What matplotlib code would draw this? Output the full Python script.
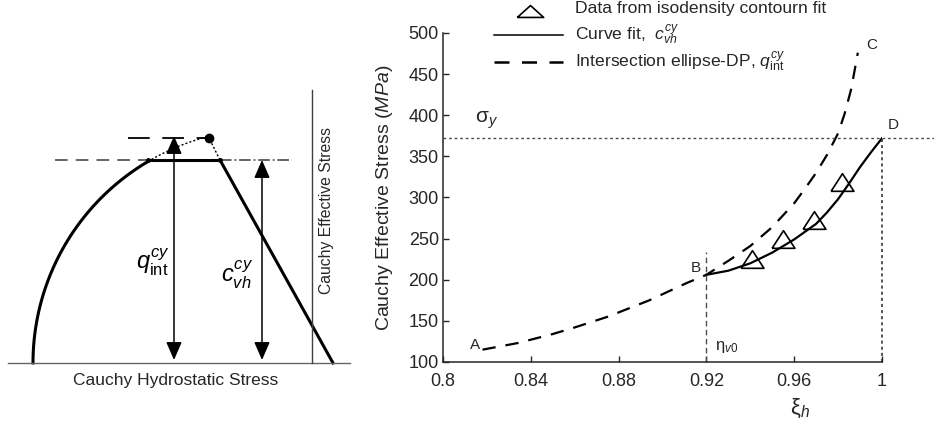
import numpy as np
import matplotlib
matplotlib.use("Agg")
import matplotlib.pyplot as plt

plt.rcParams['font.family'] = ['Liberation Sans', 'DejaVu Sans']
plt.rcParams['mathtext.fontset'] = 'custom'
plt.rcParams['mathtext.rm'] = 'Liberation Sans'
plt.rcParams['mathtext.it'] = 'Liberation Sans:italic'
plt.rcParams['mathtext.bf'] = 'Liberation Sans:bold'

# right panel data
xi_tri = [0.941, 0.955, 0.969, 0.982]
q_tri = [225, 249, 273, 319]

xi_fit = [0.92, 0.93, 0.94, 0.95, 0.96, 0.97, 0.975, 0.98, 0.985, 0.99, 0.995, 1.0]
q_fit = [206, 211, 220, 233, 249, 268, 282, 298, 317, 337, 355, 372]

xi_int = [0.818, 0.834, 0.85, 0.86, 0.875, 0.894, 0.911, 0.92, 0.93, 0.94,
          0.95, 0.96, 0.965, 0.97, 0.975, 0.98, 0.983, 0.986, 0.989]
q_int = [115, 123, 134, 142, 155, 175, 196, 206, 223, 241,
         264, 293, 311, 330, 352, 378, 402, 432, 476]

sigma_y = 372
eta_v0 = 0.92
xticks = [0.8, 0.84, 0.88, 0.92, 0.96, 1.0]
xticklabels = ['0.8', '0.84', '0.88', '0.92', '0.96', '1']
yticks = [100, 150, 200, 250, 300, 350, 400, 450, 500]

# left schematic geometry (pixel units of the figure)
circ_c = (267, 363)
circ_r = 234
ang_solid = (180, 120.6)
ang_dot = (120.6, 104.5)
top_y = 160
dp_top = (220, 160)
dp_bot = (333, 363)
peak = (209, 138)

fig = plt.figure(figsize=(9.34, 4.34), dpi=100)

# ---- left schematic ----
ax0 = fig.add_axes([0, 0, 1, 1])
ax0.set_xlim(0, 934)
ax0.set_ylim(434, 0)
ax0.axis('off')

t = np.radians(np.linspace(*ang_solid, 100))
ax0.plot(circ_c[0] + circ_r*np.cos(t), circ_c[1] - circ_r*np.sin(t), 'k', lw=2.2)
p_left = (circ_c[0] + circ_r*np.cos(t[-1]), circ_c[1] - circ_r*np.sin(t[-1]))
t2 = np.radians(np.linspace(*ang_dot, 40))
ax0.plot(circ_c[0] + circ_r*np.cos(t2), circ_c[1] - circ_r*np.sin(t2), 'k', lw=1, ls=(0, (1.5, 1.5)))
ax0.plot([p_left[0], dp_top[0]], [top_y, top_y], 'k', lw=2.2)
ax0.plot([dp_top[0], dp_bot[0]], [dp_top[1], dp_bot[1]], 'k', lw=2.2)
ax0.plot([dp_top[0], peak[0]], [dp_top[1], peak[1]], 'k', lw=1, ls=(0, (1.5, 1.5)))
ax0.plot([55, p_left[0]], [top_y, top_y], color='0.35', lw=1.3, dashes=(7, 4.5))
ax0.plot([dp_top[0], 292], [top_y, top_y], color='0.35', lw=1.3, ls='-.')
ax0.plot([128, 205], [peak[1], peak[1]], 'k', lw=1.3, dashes=(12, 7))
ax0.plot([p_left[0], dp_top[0]], [top_y, top_y], 'k.', ms=5)
ax0.plot(*peak, 'ko', ms=6)
ax0.plot([8, 350], [363, 363], color='0.4', lw=1)
ax0.plot([312, 312], [90, 363], color='0.25', lw=1)

for xa, ya in [(174, 136), (262, 160)]:
    ax0.annotate('', xy=(xa, ya), xytext=(xa, 360),
                 arrowprops=dict(arrowstyle='<|-|>,head_length=0.55,head_width=0.24',
                                 lw=1.1, color='k', shrinkA=0, shrinkB=0,
                                 mutation_scale=20))

ax0.text(153, 262, r'$q_{\mathrm{int}}^{cy}$', fontsize=17, ha='center', va='center')
ax0.text(237, 275, r'$c_{vh}^{cy}$', fontsize=17, ha='center', va='center')
ax0.text(326, 210, 'Cauchy Effective Stress', fontsize=11.3, rotation=90,
         ha='center', va='center', color='0.15')
ax0.text(176, 381, 'Cauchy Hydrostatic Stress', fontsize=12.5,
         ha='center', va='center', color='0.15')

# legend (drawn on figure pixel axes)
tri_leg = [(-1, -0.45), (1, -0.45), (0, 0.45), (-1, -0.45)]
ax0.plot(530, 11, marker=tri_leg, ms=19, mfc='none', mec='k', mew=1.2, clip_on=False)
ax0.plot([494, 563], [35, 35], 'k', lw=1.1)
ax0.plot([494, 563], [62, 62], 'k', lw=1.8, dashes=(6, 5))
ax0.text(575, 13, 'Data from isodensity contourn fit', fontsize=12.6, va='baseline', color='0.15')
ax0.text(575, 40, r'Curve fit,  $c_{vh}^{cy}$', fontsize=12.6, va='baseline', color='0.15')
ax0.text(575, 67, r'Intersection ellipse-DP, $q_{\mathrm{int}}^{cy}$', fontsize=12.6,
         va='baseline', color='0.15')

# ---- right chart ----
ax = fig.add_axes([0.4743, 0.1659, 0.470, 0.7581])
ax.patch.set_alpha(0)
tri = [(-1, -0.77), (1, -0.77), (0, 0.77), (-1, -0.77)]
ax.plot(xi_int, q_int, 'k', lw=1.6, dashes=(6, 4.5))
ax.plot(xi_fit, q_fit, 'k', lw=1.6)
ax.plot(xi_tri, q_tri, ls='none', marker=tri, ms=16.5, mfc='none', mec='k', mew=1.2)

ax.axhline(sigma_y, xmin=0, xmax=1.12, color='0.3', lw=1, ls=(0, (2, 2)), clip_on=False)
ax.plot([1.0, 1.0], [100, sigma_y], color='0.15', lw=1.1, ls=(0, (2, 2)), clip_on=False)
ax.plot([eta_v0, eta_v0], [100, 234], color='0.3', lw=1, ls=(0, (4, 2.5)))

ax.set_xlim(0.8, 1.0)
ax.set_ylim(100, 500)
ax.set_xticks(xticks)
ax.set_xticklabels(xticklabels)
ax.set_yticks(yticks)
ax.tick_params(direction='in', length=4, width=1, labelsize=13, colors='0.15')
ax.tick_params(axis='x', pad=8)
ax.tick_params(axis='y', pad=3)
for s in ['top', 'right']:
    ax.spines[s].set_visible(False)
for s in ['left', 'bottom']:
    ax.spines[s].set_color('0.15')
    ax.spines[s].set_linewidth(1.1)
ax.set_ylabel(r'Cauchy Effective Stress ($\mathit{MPa}$)', fontsize=14, color='0.15')
ax.yaxis.set_label_coords(-0.11, 0.5)

ax.text(0.8146, 121, 'A', fontsize=11, ha='center', va='center', color='0.15')
ax.text(0.9153, 214, 'B', fontsize=11, ha='center', va='center', color='0.15')
ax.text(0.9954, 485, 'C', fontsize=11, ha='center', va='center', color='0.15')
ax.text(1.005, 388, 'D', fontsize=11, ha='center', va='center', color='0.15')
ax.text(0.82, 394, r'$\mathrm{\sigma}_y$', fontsize=15, ha='center', va='center', color='0.15')
ax.text(0.9238, 118, r'$\mathrm{\eta}_{v0}$', fontsize=12, ha='left', va='center', color='0.15')
ax.text(0.9626, -0.14, r'$\mathrm{\xi}_h$', fontsize=16, ha='center', va='center',
        color='0.15', transform=ax.get_xaxis_transform())

fig.savefig('out.png', dpi=100)
